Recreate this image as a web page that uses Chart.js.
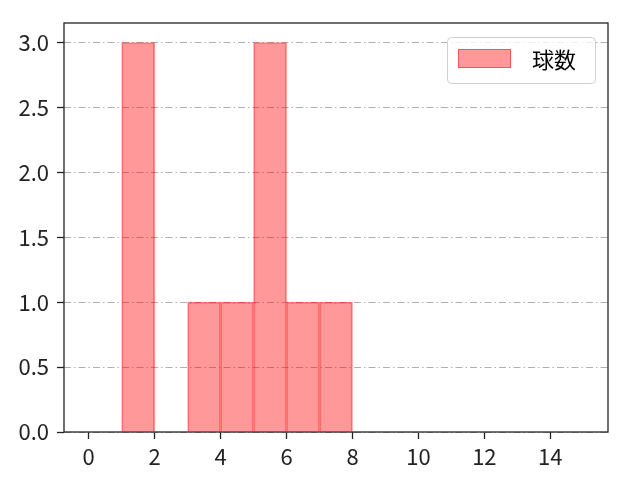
<!DOCTYPE html>
<html>
<head>
<meta charset="utf-8">
<script src="https://cdn.jsdelivr.net/npm/chart.js@4/dist/chart.umd.min.js"></script>
<style>
  html, body { margin: 0; padding: 0; background: #fff; }
  #wrap { width: 640px; height: 480px; }
</style>
</head>
<body>
<div id="wrap"><canvas id="histChart" width="640" height="480"></canvas></div>
<script>
// histogram bins (left edge, width 1) and counts
const binStarts = [0, 1, 2, 3, 4, 5, 6, 7, 8, 9, 10, 11, 12, 13, 14];
const counts = [0, 3, 0, 1, 1, 3, 1, 1, 0, 0, 0, 0, 0, 0, 0];
const seriesLabel = '球数';
const xTicks = [0, 2, 4, 6, 8, 10, 12, 14];
const yTicks = [0, 0.5, 1.0, 1.5, 2.0, 2.5, 3.0];

const FONT = '"Noto Sans CJK JP", sans-serif';

// frame + legend box drawn like matplotlib
const framePlugin = {
    id: 'frame',
    afterDraw(chart) {
        const { ctx, chartArea: a } = chart;
        ctx.save();
        ctx.strokeStyle = '#222';
        ctx.lineWidth = 1.3;
        ctx.setLineDash([]);
        ctx.strokeRect(a.left, a.top, a.right - a.left, a.bottom - a.top);

        // legend
        const ds = chart.data.datasets[0];
        const bx = 447, by = 37, bw = 148, bh = 46;
        ctx.fillStyle = 'rgba(255,255,255,0.8)';
        ctx.strokeStyle = '#d0d0d0';
        ctx.lineWidth = 1;
        ctx.beginPath();
        ctx.roundRect(bx + 0.5, by + 0.5, bw, bh, 4);
        ctx.fill();
        ctx.stroke();
        ctx.fillStyle = ds.backgroundColor;
        ctx.fillRect(458, 49, 53, 19);
        ctx.strokeStyle = ds.borderColor;
        ctx.strokeRect(458.5, 49.5, 52, 18);
        ctx.fillStyle = '#000';
        ctx.font = '22px ' + FONT;
        ctx.textBaseline = 'middle';
        ctx.fillText(ds.label, 532, 60);
        ctx.restore();
    }
};

const ctx = document.getElementById('histChart').getContext('2d');
new Chart(ctx, {
    type: 'bar',
    data: {
        datasets: [{
            label: seriesLabel,
            data: binStarts.map((b, i) => ({ x: b + 0.5, y: counts[i] })).filter(p => p.y > 0),
            backgroundColor: 'rgba(255,0,0,0.4)',
            borderColor: 'rgba(255,0,0,0.45)',
            borderWidth: 1,
            barPercentage: 1,
            categoryPercentage: 1
        }]
    },
    options: {
        responsive: false,
        animation: false,
        devicePixelRatio: 1,
        layout: { padding: { left: 0, right: 32, top: 23, bottom: 0 } },
        plugins: {
            legend: { display: false },
            tooltip: { enabled: false }
        },
        scales: {
            x: {
                type: 'linear',
                min: -0.75,
                max: 15.75,
                offset: false,
                afterBuildTicks: s => { s.ticks = xTicks.map(v => ({ value: v })); },
                afterFit: s => { s.height = 48; },
                grid: {
                    offset: false,
                    drawOnChartArea: false,
                    tickLength: 7,
                    tickColor: '#222',
                    tickWidth: 1.3
                },
                border: { display: false },
                ticks: {
                    color: '#222',
                    font: { family: FONT, size: 22 },
                    padding: 4,
                    maxRotation: 0
                }
            },
            y: {
                min: 0,
                max: 3.15,
                z: 1,
                afterBuildTicks: s => { s.ticks = yTicks.map(v => ({ value: v })); },
                afterFit: s => { s.width = 64; },
                grid: {
                    color: '#b0b0b0',
                    lineWidth: 1,
                    tickLength: 7,
                    tickColor: '#222',
                    tickWidth: 1.3,
                    tickBorderDash: []
                },
                border: { display: false, dash: [7, 3, 1.5, 3] },
                ticks: {
                    color: '#222',
                    font: { family: FONT, size: 22 },
                    padding: 8,
                    callback: v => v.toFixed(1)
                }
            }
        }
    },
    plugins: [framePlugin]
});
</script>
</body>
</html>
